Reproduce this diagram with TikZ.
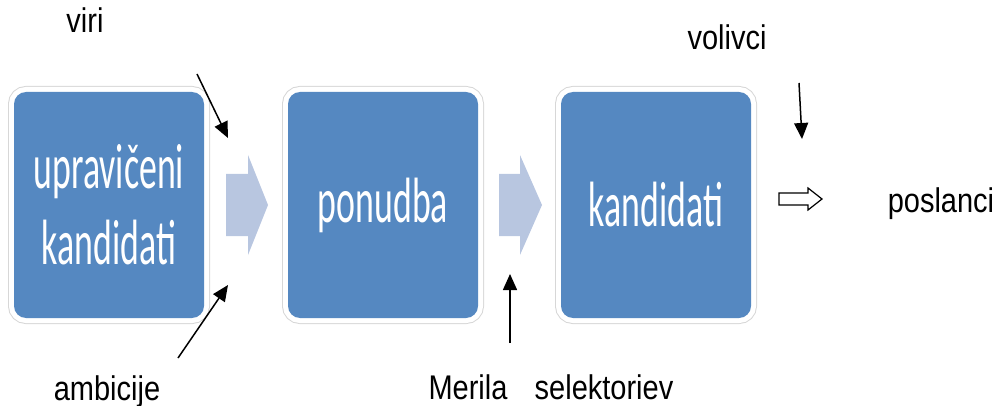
\documentclass[tikz,border=0pt]{standalone}
\usepackage{fontspec}
\setmainfont{Liberation Sans}
\newfontfamily\boxfont{Carlito}
\usetikzlibrary{arrows.meta}
\definecolor{boxblue}{RGB}{85,136,193}
\definecolor{chevblue}{RGB}{184,198,224}
\definecolor{halo}{RGB}{215,215,215}
\newcommand{\squeeze}[1]{\scalebox{0.56}[1]{#1}}
\tikzset{
    box/.style={rectangle, rounded corners=12pt, fill=boxblue, text=white,
        minimum width=190pt, minimum height=226pt, align=center,
        font=\boxfont\fontsize{64}{82}\selectfont,
        preaction={draw=halo, line width=12pt},
        preaction={draw=white, line width=10pt}},
    lbl/.style={anchor=base, inner sep=0pt, font=\fontsize{29}{30}\selectfont,
        yscale=1.18, transform shape},
    pin/.style={-{Triangle[length=16pt,width=14pt]}, line width=1.5pt},
    chev/.style={fill=chevblue}
}
\begin{document}
\begin{tikzpicture}[x=1pt, y=-1pt]
        \clip (0,0) rectangle (998,406);
        \node (b1) [box] at (109,205) {\squeeze{upravi\v{c}eni}\\[-6pt]\squeeze{kandidati}};
        \node (b2) [box] at (383,205) {\squeeze{ponudba}};
        \node (b3) [box] at (656,205) {\squeeze{kandidati}};
        % chevrons between the boxes
        \fill[chev] (226,174) -- (248,174) -- (248,155) -- (268,205) -- (248,255) -- (248,236) -- (226,236) -- cycle;
        \fill[chev] (499,174) -- (520,174) -- (520,155) -- (542,205) -- (520,255) -- (520,236) -- (499,236) -- cycle;
        \draw[line width=1.2pt, fill=white] (779,193) -- (808,193) -- (808,188) -- (822,199) -- (808,210) -- (808,205) -- (779,205) -- cycle;
        \node (viri) [lbl] at (85,33) {viri};
        \node (amb) [lbl] at (107,400) {ambicije};
        \node (mer) [lbl] at (468,399) {Merila};
        \node (sel) [lbl] at (604,399) {selektoriev};
        \node (vol) [lbl] at (727,50) {volivci};
        \node (pos) [lbl] at (941,212) {poslanci};
        \coordinate (v0) at (197,74);
        \coordinate (v1) at (228,138);
        \coordinate (a0) at (178,358);
        \coordinate (a1) at (228,285);
        \coordinate (m0) at (510,343);
        \coordinate (m1) at (510,274);
        \coordinate (w0) at (799,83);
        \coordinate (w1) at (802,139);
        \draw (v0) edge [pin] (v1);
        \draw (a0) edge [pin] (a1);
        \draw (m0) edge [pin] (m1);
        \draw (w0) edge [pin] (w1);
\end{tikzpicture}
\end{document}
